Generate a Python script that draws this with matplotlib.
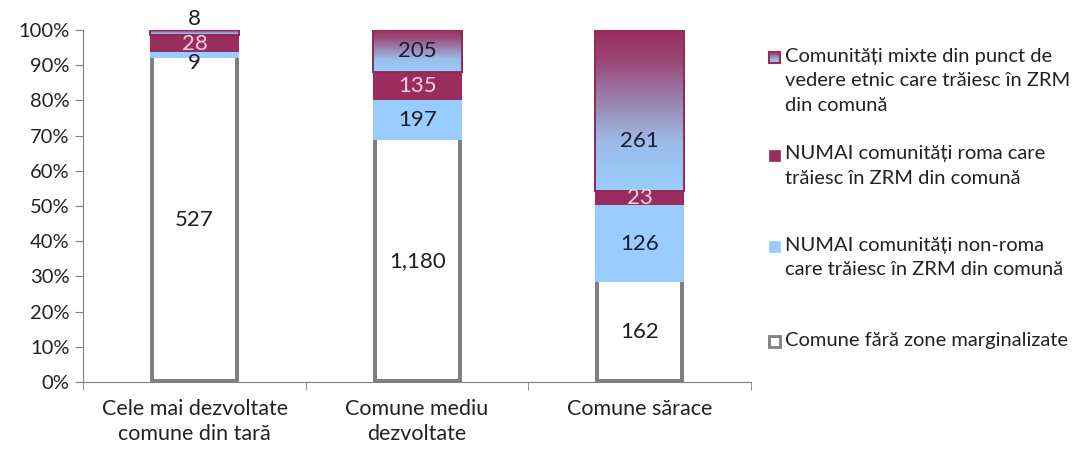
import matplotlib
matplotlib.use("Agg")
import matplotlib.pyplot as plt
import numpy as np
from matplotlib.colors import LinearSegmentedColormap
from matplotlib.patches import Rectangle

# data
categories = ["Cele mai dezvoltate\ncomune din tară", "Comune mediu\ndezvoltate", "Comune sărace"]
no_zone = [527, 1180, 162]      # Comune fără zone marginalizate
non_roma = [9, 197, 126]        # NUMAI comunități non-roma
roma = [28, 135, 23]            # NUMAI comunități roma
mixed = [8, 205, 261]           # Comunități mixte

legend_labels = [
    "Comunități mixte din punct de\nvedere etnic care trăiesc în ZRM\ndin comună",
    "NUMAI comunități roma care\ntrăiesc în ZRM din comună",
    "NUMAI comunități non-roma\ncare trăiesc în ZRM din comună",
    "Comune fără zone marginalizate",
]

MAROON = "#9b2c5e"
BLUE = "#99ccff"
GRAY = "#808080"
DARK = "#1c1c2a"
PINK = "#fbd0e6"
TXT = "#222222"

plt.rcParams["font.family"] = ["Lato", "DejaVu Sans"]

grad = LinearSegmentedColormap.from_list(
    "mix", [(0.0, BLUE), (0.3, "#9cbde9"), (0.6, "#9a7aa6"), (0.8, "#9a4a78"), (1.0, MAROON)])

series = [no_zone, non_roma, roma, mixed]
totals = np.sum(series, axis=0)
shares = [np.array(s) / totals * 100 for s in series]

fig = plt.figure(figsize=(10.82, 4.49), dpi=100)
ax = fig.add_axes([0.077, 0.149, 0.617, 0.784])

x = np.arange(len(categories))
w = 0.40
bottoms = np.zeros(len(categories))

# white segment: gray frame on sides and bottom only
ax.bar(x, shares[0], w, bottom=bottoms, color=GRAY, linewidth=0, zorder=2)
ax.bar(x, shares[0] - 0.9, w - 0.036, bottom=bottoms + 0.9, color="white", linewidth=0, zorder=2.5)
bottoms += shares[0]
ax.bar(x, shares[1], w, bottom=bottoms, color=BLUE, linewidth=0, zorder=3)
bottoms += shares[1]
ax.bar(x, shares[2], w, bottom=bottoms, color=MAROON, linewidth=0, zorder=3)
bottoms += shares[2]
mix_bars = ax.bar(x, shares[3], w, bottom=bottoms, color="none", edgecolor="#8e2a58", linewidth=1.4, zorder=4)

gvals = np.linspace(0, 1, 256).reshape(-1, 1)
for b in mix_bars:
    ax.imshow(gvals, cmap=grad, origin="lower", aspect="auto", zorder=3.5,
              extent=(b.get_x(), b.get_x() + b.get_width(), b.get_y(), b.get_y() + b.get_height()))

# value labels (a few were nudged by hand in the original)
nudge = {(3, 0): 10, (1, 0): -6, (3, 2): -22}
label_colors = [DARK, DARK, PINK, DARK]
base = np.zeros(len(categories))
for k, (vals, sh) in enumerate(zip(series, shares)):
    for i in range(len(categories)):
        ax.annotate(f"{vals[i]:,}", (x[i], base[i] + sh[i] / 2), xytext=(0, nudge.get((k, i), 0)),
                    textcoords="offset points", ha="center", va="center",
                    fontsize=16, color=label_colors[k], zorder=6)
    base += sh

ax.set_xlim(-0.5, 2.5)
ax.set_ylim(0, 100)
ax.set_yticks(np.arange(0, 101, 10))
ax.set_yticklabels([f"{v}%" for v in range(0, 101, 10)], fontsize=14.5, color=TXT)
ax.set_xticks(x)
ax.set_xticklabels(categories, fontsize=15.5, color=TXT, linespacing=1.3)
ax.set_xticks([-0.5, 0.5, 1.5, 2.5], minor=True)
ax.tick_params(axis="x", which="major", length=0, pad=12)
ax.tick_params(axis="x", which="minor", length=6, color=GRAY)
ax.tick_params(axis="y", length=6, color=GRAY, pad=4)
for side in ["top", "right"]:
    ax.spines[side].set_visible(False)
for side in ["left", "bottom"]:
    ax.spines[side].set_color(GRAY)

# legend drawn by hand to keep the uneven spacing of the original
leg_top = [0.894, 0.676, 0.473, 0.261]
leg_x = 0.711
box_w, box_h = 0.0102, 0.0245
for j, (lab, y) in enumerate(zip(legend_labels, leg_top)):
    fig.text(leg_x + 0.0145, y, lab, fontsize=14.5, color=TXT, va="top", ha="left",
             linespacing=1.55)
    by = y - 0.0215 - box_h / 2
    if j == 0:
        lax = fig.add_axes([leg_x, by, box_w, box_h])
        lax.imshow(gvals, cmap=grad, origin="lower", aspect="auto")
        lax.set_xticks([]); lax.set_yticks([])
        for s in lax.spines.values():
            s.set_color(MAROON); s.set_linewidth(1.5)
    else:
        fc, ec = [(MAROON, MAROON), (BLUE, BLUE), ("white", GRAY)][j - 1]
        fig.patches.append(Rectangle((leg_x, by), box_w, box_h, transform=fig.transFigure,
                                     facecolor=fc, edgecolor=ec, linewidth=2 if j == 3 else 0.5))

fig.savefig("out.png", dpi=100)
